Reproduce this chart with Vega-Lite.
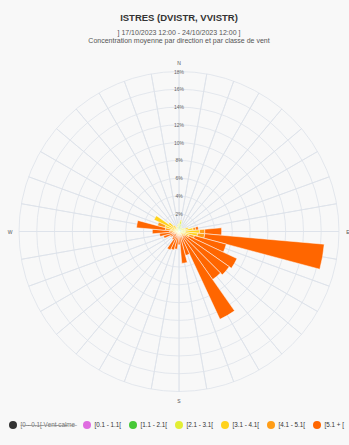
{
  "$schema": "https://vega.github.io/schema/vega-lite/v6.json",
  "width": 320,
  "height": 320,
  "autosize": "none",
  "padding": {"left": 19, "top": 71.5, "right": 10, "bottom": 53.5},
  "background": "#f8f8f8",
  "config": {
    "font": "Liberation Sans",
    "view": {"stroke": null}
  },
  "title": {
    "text": "ISTRES (DVISTR, VVISTR)",
    "subtitle": ["] 17/10/2023 12:00 - 24/10/2023 12:00 ]", "Concentration moyenne par direction et par classe de vent"],
    "anchor": "middle",
    "font": "Liberation Sans",
    "fontSize": 9.5,
    "fontWeight": "bold",
    "color": "#333333",
    "subtitleFont": "Liberation Sans",
    "subtitleFontSize": 7,
    "subtitleColor": "#555555",
    "subtitlePadding": 6.5,
    "subtitleLineHeight": 8,
    "offset": 16.5
  },
  "datasets": {
    "rose": [
      {"dir": 0, "p1": 0.1, "p2": 0.5, "p3": 0.3, "p4": 0, "p5": 0, "p6": 0},
      {"dir": 10, "p1": 0.1, "p2": 0.7, "p3": 0.4, "p4": 0.1, "p5": 0, "p6": 0},
      {"dir": 20, "p1": 0.1, "p2": 0.4, "p3": 0.2, "p4": 0, "p5": 0, "p6": 0},
      {"dir": 30, "p1": 0.1, "p2": 0.3, "p3": 0.1, "p4": 0, "p5": 0, "p6": 0},
      {"dir": 40, "p1": 0.1, "p2": 0.2, "p3": 0.1, "p4": 0, "p5": 0, "p6": 0},
      {"dir": 50, "p1": 0.1, "p2": 0.2, "p3": 0.2, "p4": 0, "p5": 0, "p6": 0},
      {"dir": 60, "p1": 0.1, "p2": 0.2, "p3": 0.3, "p4": 0.1, "p5": 0, "p6": 0},
      {"dir": 70, "p1": 0.1, "p2": 0.2, "p3": 0.4, "p4": 0.4, "p5": 0, "p6": 0},
      {"dir": 80, "p1": 0.1, "p2": 0.2, "p3": 0.4, "p4": 0.9, "p5": 0.3, "p6": 0.3},
      {"dir": 90, "p1": 0.1, "p2": 0.2, "p3": 0.4, "p4": 1.6, "p5": 0.6, "p6": 1.9},
      {"dir": 100, "p1": 0.1, "p2": 0.2, "p3": 0.4, "p4": 1.4, "p5": 0.8, "p6": 13.5},
      {"dir": 110, "p1": 0.1, "p2": 0.2, "p3": 0.3, "p4": 0.6, "p5": 0.6, "p6": 3.7},
      {"dir": 120, "p1": 0.1, "p2": 0.1, "p3": 0.2, "p4": 0.4, "p5": 0.4, "p6": 6.0},
      {"dir": 130, "p1": 0.05, "p2": 0.1, "p3": 0.15, "p4": 0.2, "p5": 0.3, "p6": 6.1},
      {"dir": 140, "p1": 0.05, "p2": 0.1, "p3": 0.15, "p4": 0.2, "p5": 0.2, "p6": 5.9},
      {"dir": 150, "p1": 0.05, "p2": 0.1, "p3": 0.15, "p4": 0.2, "p5": 0.3, "p6": 10.1},
      {"dir": 160, "p1": 0.05, "p2": 0.1, "p3": 0.1, "p4": 0.15, "p5": 0.2, "p6": 2.2},
      {"dir": 170, "p1": 0.05, "p2": 0.1, "p3": 0.1, "p4": 0.15, "p5": 0.2, "p6": 3.0},
      {"dir": 180, "p1": 0.05, "p2": 0.1, "p3": 0.1, "p4": 0.1, "p5": 0.15, "p6": 1.0},
      {"dir": 190, "p1": 0.05, "p2": 0.1, "p3": 0.1, "p4": 0.1, "p5": 0.15, "p6": 1.5},
      {"dir": 200, "p1": 0.05, "p2": 0.1, "p3": 0.1, "p4": 0.1, "p5": 0.2, "p6": 1.6},
      {"dir": 210, "p1": 0.05, "p2": 0.1, "p3": 0.1, "p4": 0.1, "p5": 0.2, "p6": 1.75},
      {"dir": 220, "p1": 0.05, "p2": 0.1, "p3": 0.1, "p4": 0.1, "p5": 0.15, "p6": 0.6},
      {"dir": 230, "p1": 0.05, "p2": 0.1, "p3": 0.1, "p4": 0.1, "p5": 0.1, "p6": 0.45},
      {"dir": 240, "p1": 0.05, "p2": 0.1, "p3": 0.1, "p4": 0.1, "p5": 0.15, "p6": 0.6},
      {"dir": 250, "p1": 0.05, "p2": 0.1, "p3": 0.15, "p4": 0.15, "p5": 0.2, "p6": 1.15},
      {"dir": 260, "p1": 0.05, "p2": 0.1, "p3": 0.15, "p4": 0.2, "p5": 0.3, "p6": 1.4},
      {"dir": 270, "p1": 0.05, "p2": 0.1, "p3": 0.2, "p4": 0.3, "p5": 0.4, "p6": 1.95},
      {"dir": 280, "p1": 0.05, "p2": 0.1, "p3": 0.2, "p4": 0.6, "p5": 0.6, "p6": 3.25},
      {"dir": 290, "p1": 0.05, "p2": 0.1, "p3": 0.3, "p4": 1.2, "p5": 0.85, "p6": 0},
      {"dir": 300, "p1": 0.05, "p2": 0.1, "p3": 0.4, "p4": 2.55, "p5": 0, "p6": 0},
      {"dir": 310, "p1": 0.05, "p2": 0.1, "p3": 0.3, "p4": 1.0, "p5": 0, "p6": 0},
      {"dir": 320, "p1": 0.05, "p2": 0.1, "p3": 0.3, "p4": 0.4, "p5": 0, "p6": 0},
      {"dir": 330, "p1": 0.05, "p2": 0.2, "p3": 0.2, "p4": 0.1, "p5": 0, "p6": 0},
      {"dir": 340, "p1": 0.05, "p2": 0.2, "p3": 0.2, "p4": 0.1, "p5": 0, "p6": 0},
      {"dir": 350, "p1": 0.1, "p2": 0.4, "p3": 0.3, "p4": 0, "p5": 0, "p6": 0}
    ],
    "classes": [
      {"k": "p1", "classe": "[0.1 - 1.1[", "ordre": 1},
      {"k": "p2", "classe": "[1.1 - 2.1[", "ordre": 2},
      {"k": "p3", "classe": "[2.1 - 3.1[", "ordre": 3},
      {"k": "p4", "classe": "[3.1 - 4.1[", "ordre": 4},
      {"k": "p5", "classe": "[4.1 - 5.1[", "ordre": 5},
      {"k": "p6", "classe": "[5.1 + [", "ordre": 6}
    ],
    "rings": [
      {"r": 2, "lab": "2%"}, {"r": 4, "lab": "4%"}, {"r": 6, "lab": "6%"},
      {"r": 8, "lab": "8%"}, {"r": 10, "lab": "10%"}, {"r": 12, "lab": "12%"},
      {"r": 14, "lab": "14%"}, {"r": 16, "lab": "16%"}, {"r": 18, "lab": "18%"}
    ],
    "spokes": [
      {"ang": 0}, {"ang": 10}, {"ang": 20}, {"ang": 30}, {"ang": 40}, {"ang": 50},
      {"ang": 60}, {"ang": 70}, {"ang": 80}, {"ang": 90}, {"ang": 100}, {"ang": 110},
      {"ang": 120}, {"ang": 130}, {"ang": 140}, {"ang": 150}, {"ang": 160}, {"ang": 170},
      {"ang": 180}, {"ang": 190}, {"ang": 200}, {"ang": 210}, {"ang": 220}, {"ang": 230},
      {"ang": 240}, {"ang": 250}, {"ang": 260}, {"ang": 270}, {"ang": 280}, {"ang": 290},
      {"ang": 300}, {"ang": 310}, {"ang": 320}, {"ang": 330}, {"ang": 340}, {"ang": 350}
    ],
    "compass": [
      {"ang": 0, "lab": "N"}, {"ang": 90, "lab": "E"}, {"ang": 180, "lab": "S"}, {"ang": 270, "lab": "W"}
    ]
  },
  "layer": [
    {
      "data": {"name": "rings"},
      "mark": {"type": "arc", "theta": 0, "theta2": 6.2832, "filled": false, "stroke": "#dde2ea", "strokeWidth": 0.8},
      "encoding": {
        "radius": {"field": "r", "type": "quantitative", "stack": null, "scale": {"type": "linear", "domain": [0, 18], "zero": true, "nice": false}}
      }
    },
    {
      "data": {"name": "spokes"},
      "mark": {"type": "arc", "filled": false, "stroke": "#dde2ea", "strokeWidth": 0.8},
      "encoding": {
        "theta": {"field": "ang", "type": "quantitative", "stack": null, "scale": {"domain": [0, 360], "range": [0, 6.283185307], "nice": false, "zero": false}},
        "theta2": {"field": "ang"},
        "radius": {"datum": 18, "type": "quantitative"},
        "radius2": {"datum": 0}
      }
    },
    {
      "data": {"name": "rose"},
      "transform": [
        {"fold": ["p1", "p2", "p3", "p4", "p5", "p6"], "as": ["k", "pct"]},
        {"filter": "datum.pct > 0"},
        {"lookup": "k", "from": {"data": {"name": "classes"}, "key": "k", "fields": ["classe", "ordre"]}},
        {"bin": {"step": 10, "extent": [-5, 355], "nice": false}, "field": "dir", "as": ["a0", "a1"]},
        {"stack": "pct", "groupby": ["dir"], "sort": [{"field": "ordre", "order": "ascending"}], "as": ["r0", "r1"]}
      ],
      "mark": {"type": "arc", "stroke": "#ffffff", "strokeWidth": 0.5},
      "encoding": {
        "theta": {"field": "a0", "type": "quantitative", "stack": null},
        "theta2": {"field": "a1"},
        "radius": {"field": "r1", "type": "quantitative", "stack": null},
        "radius2": {"field": "r0"},
        "color": {
          "field": "classe",
          "type": "nominal",
          "scale": {
            "domain": ["[0 - 0.1[ Vent calme", "[0.1 - 1.1[", "[1.1 - 2.1[", "[2.1 - 3.1[", "[3.1 - 4.1[", "[4.1 - 5.1[", "[5.1 + ["],
            "range": ["#333333", "#df6ce0", "#46c837", "#e2ee34", "#ffd21c", "#ff9d17", "#ff6600"]
          },
          "legend": {
            "title": null,
            "orient": "none",
            "direction": "horizontal",
            "legendX": -10,
            "legendY": 349.5,
            "symbolType": "circle",
            "symbolSize": 64,
            "symbolStrokeWidth": 0,
            "symbolOpacity": 1,
            "labelFont": "Liberation Sans",
            "labelFontSize": 6.3,
            "labelColor": {"expr": "datum.index === 0 ? '#777777' : '#333333'"},
            "labelOffset": 3.5,
            "columnPadding": 7,
            "labelLimit": 0,
            "labelExpr": "datum.index === 0 ? '[̶0̶ ̶-̶ ̶0̶.̶1̶[̶ ̶V̶e̶n̶t̶ ̶c̶a̶l̶m̶e̶\u00a0\u00a0\u00a0\u00a0\u00a0\u00a0' : datum.label"
          }
        },
        "order": {"field": "ordre"}
      }
    },
    {
      "data": {"name": "rings"},
      "mark": {"type": "text", "theta": 0, "fontSize": 5, "color": "#666666", "align": "center", "baseline": "middle"},
      "encoding": {
        "radius": {"field": "r", "type": "quantitative", "stack": null},
        "text": {"field": "lab"}
      }
    },
    {
      "data": {"name": "compass"},
      "mark": {"type": "text", "radiusOffset": 9, "fontSize": 5, "color": "#555555", "align": "center", "baseline": "middle"},
      "encoding": {
        "theta": {"field": "ang", "type": "quantitative", "stack": null},
        "radius": {"datum": 18, "type": "quantitative"},
        "text": {"field": "lab"}
      }
    }
  ]
}
